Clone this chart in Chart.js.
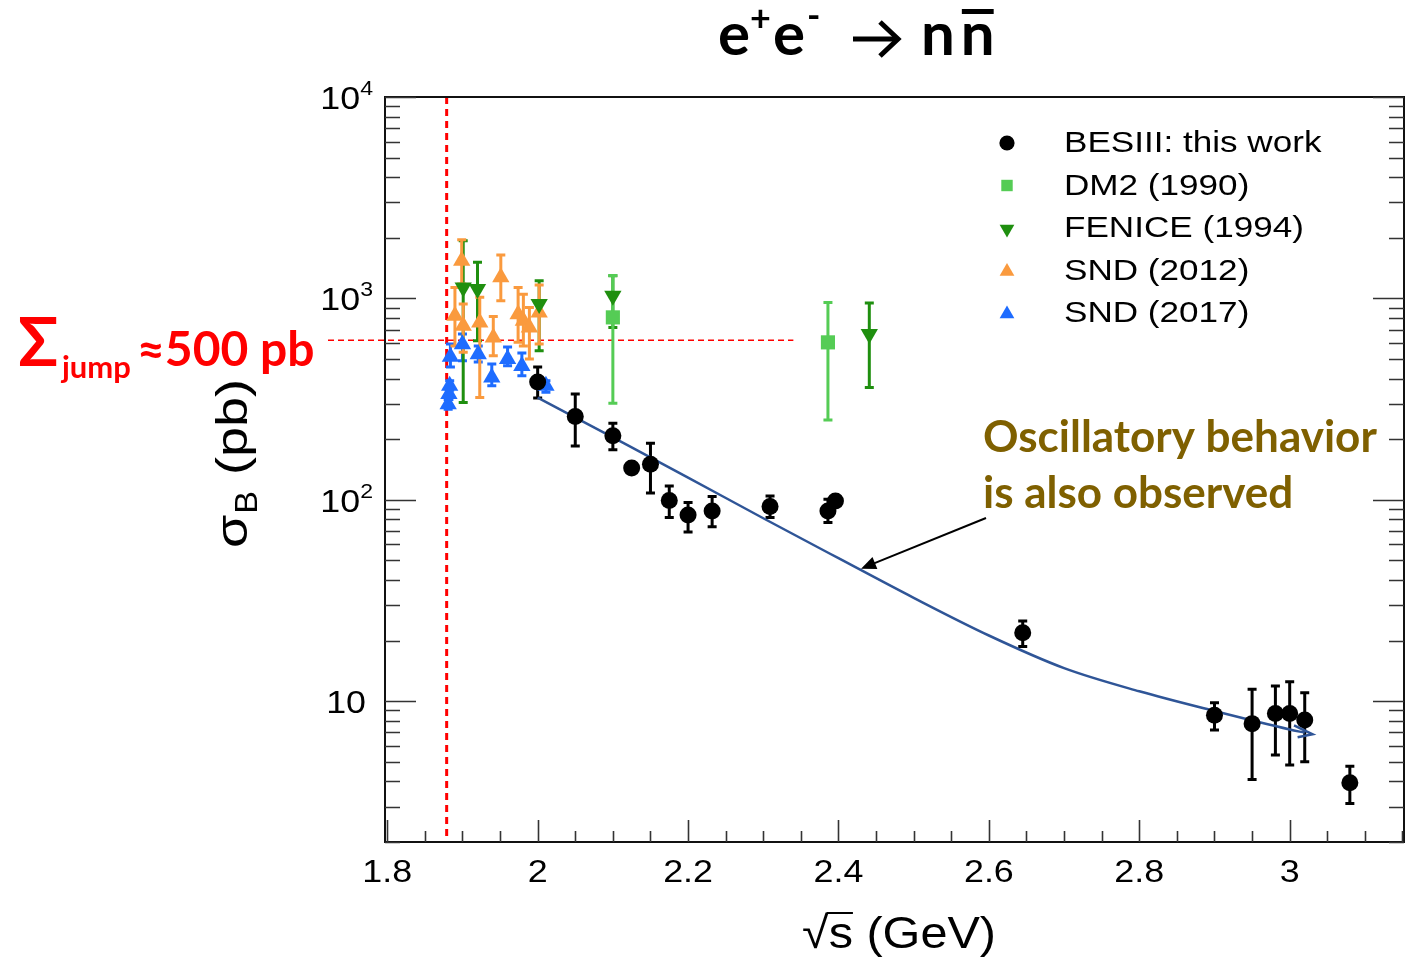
<!DOCTYPE html>
<html>
<head>
<meta charset="utf-8">
<script src="https://cdn.jsdelivr.net/npm/chart.js@4.4.0/dist/chart.umd.min.js"></script>
<style>
html, body { margin: 0; padding: 0; background: #fff; }
</style>
</head>
<body>
<canvas id="c" width="1414" height="962"></canvas>
<script>
// BESIII: this work
const besX  = [2.000, 2.050, 2.100, 2.125, 2.150, 2.175, 2.200, 2.232, 2.309, 2.386, 2.396, 2.645, 2.900, 2.950, 2.981, 3.000, 3.020, 3.080];
const besY  = [385, 259, 208, 144, 150, 99.2, 84.1, 88.1, 92.6, 88.1, 98.7, 21.9, 8.51, 7.74, 8.68, 8.68, 8.07, 3.94];
const besLo = [320, 185, 177, 139, 108, 81.7, 69.3, 73.4, 81.7, 77.1, 95, 18.7, 7.19, 4.09, 5.40, 4.82, 5.01, 3.11];
const besHi = [456, 335, 240, 149, 191, 117, 97, 104, 104.6, 100.7, 102, 25.0, 9.84, 11.46, 11.9, 12.5, 11.03, 4.76];

// DM2 (1990)
const dm2X  = [2.100, 2.386];
const dm2Y  = [805, 605];
const dm2Lo = [302, 249];
const dm2Hi = [1300, 955];

// FENICE (1994)
const fenX  = [1.901, 1.920, 2.002, 2.100, 2.441];
const fenY  = [1134, 1112, 937, 1030, 665];
const fenLo = [304, 616, 549, 718, 361];
const fenHi = [1933, 1510, 1223, 1295, 948];

// SND (2012)
const snd12X  = [1.890, 1.899, 1.901, 1.923, 1.941, 1.951, 1.974, 1.981, 1.989, 2.002];
const snd12Y  = [820, 1538, 731, 760, 640, 1272, 835, 774, 717, 852];
const snd12Lo = [581, 1180, 541, 322, 519, 973, 605, 581, 500, 593];
const snd12Hi = [1134, 1955, 937, 1012, 814, 1641, 1134, 1050, 902, 1164];

// SND (2017)
const snd17X  = [1.881, 1.882, 1.883, 1.884, 1.900, 1.921, 1.939, 1.960, 1.979, 2.011];
const snd17Y  = [298, 335, 368, 513, 592, 528, 405, 500, 462, 368];
const snd17Lo = [282, 315, 350, 456, 490, 483, 368, 463, 413, 342];
const snd17Hi = [315, 355, 390, 593, 665, 581, 472, 573, 535, 390];

// fitted curve
const fitX = [2.00, 2.10, 2.20, 2.30, 2.40, 2.50, 2.60, 2.70, 2.80, 2.90, 3.00, 3.02];
const fitY = [322, 204, 129, 81, 51.3, 32.6, 21.2, 14.6, 11.2, 8.94, 7.24, 6.98];

// axes
const xTickValues = [1.8, 2.0, 2.2, 2.4, 2.6, 2.8, 3.0];
const xTickLabels = ['1.8', '2', '2.2', '2.4', '2.6', '2.8', '3'];
const yTickValues = [10, 100, 1000, 10000];
const yTickExps   = ['', '2', '3', '4'];

const threshold = 1.879;   // 2 m_n
const jumpLevel = 620;     // dashed level in pb

const points = (xs, ys, lo, hi) => xs.map((x, i) => ({ x, y: ys[i], lo: lo[i], hi: hi[i] }));

const font = (size, bold, fam) => `${bold ? 'bold ' : ''}${size}px ${fam || '"Liberation Sans", Arial, sans-serif'}`;
const CAL = 'Lato, "Open Sans", "DejaVu Sans", sans-serif';

function text(ctx, s, x, y, f, color, align, sx) {
    ctx.save();
    ctx.font = f;
    ctx.fillStyle = color;
    ctx.textAlign = align || 'left';
    ctx.textBaseline = 'alphabetic';
    ctx.translate(x, y);
    ctx.scale(sx || 1, 1);
    ctx.fillText(s, 0, 0);
    ctx.restore();
}

function width(ctx, s, f, sx) {
    ctx.save();
    ctx.font = f;
    const w = ctx.measureText(s).width * (sx || 1);
    ctx.restore();
    return w;
}

function marker(ctx, style, x, y, r, color, rot) {
    ctx.save();
    ctx.fillStyle = color;
    ctx.beginPath();
    if (style === 'circle') {
        ctx.arc(x, y, r, 0, Math.PI * 2);
    } else if (style === 'rect') {
        const s = r * Math.SQRT1_2;
        ctx.rect(x - s, y - s, 2 * s, 2 * s);
    } else {
        let a = (rot || 0) * Math.PI / 180;
        ctx.moveTo(x + Math.sin(a) * r, y - Math.cos(a) * r);
        a += 2 * Math.PI / 3;
        ctx.lineTo(x + Math.sin(a) * r, y - Math.cos(a) * r);
        a += 2 * Math.PI / 3;
        ctx.lineTo(x + Math.sin(a) * r, y - Math.cos(a) * r);
        ctx.closePath();
    }
    ctx.fill();
    ctx.restore();
}

const errorBars = {
    id: 'errorBars',
    beforeDatasetsDraw(chart) {
        const { ctx, scales: { x, y } } = chart;
        chart.data.datasets.forEach((ds) => {
            if (!ds.errColor) return;
            ctx.save();
            ctx.strokeStyle = ds.errColor;
            ctx.lineWidth = 3;
            ds.data.forEach((p) => {
                const px = x.getPixelForValue(p.x);
                const y1 = y.getPixelForValue(p.hi);
                const y2 = y.getPixelForValue(p.lo);
                ctx.beginPath();
                ctx.moveTo(px, y1); ctx.lineTo(px, y2);
                ctx.moveTo(px - 4.5, y1); ctx.lineTo(px + 4.5, y1);
                ctx.moveTo(px - 4.5, y2); ctx.lineTo(px + 4.5, y2);
                ctx.stroke();
            });
            ctx.restore();
        });
    }
};

const guides = {
    id: 'guides',
    beforeDatasetsDraw(chart) {
        const { ctx, chartArea: ca, scales: { x, y } } = chart;
        ctx.save();
        ctx.strokeStyle = '#ff0000';
        // threshold line
        ctx.lineWidth = 3;
        ctx.setLineDash([7, 5]);
        const tx = x.getPixelForValue(threshold);
        ctx.beginPath(); ctx.moveTo(tx, ca.top); ctx.lineTo(tx, ca.bottom); ctx.stroke();
        // jump level
        ctx.lineWidth = 1.5;
        ctx.setLineDash([6, 4]);
        const jy = y.getPixelForValue(jumpLevel);
        ctx.beginPath(); ctx.moveTo(328, jy); ctx.lineTo(x.getPixelForValue(2.34), jy); ctx.stroke();
        ctx.restore();
    }
};

const decorations = {
    id: 'decorations',
    afterDraw(chart) {
        const { ctx, chartArea: ca, scales: { x, y } } = chart;

        // fit curve end hook
        const meta = chart.getDatasetMeta(chart.data.datasets.length - 1);
        const pts = meta.data;
        const pA = pts[pts.length - 2], pB = pts[pts.length - 1];
        const ang = Math.atan2(pB.y - pA.y, pB.x - pA.x);
        ctx.save();
        ctx.strokeStyle = '#2f5597';
        ctx.lineWidth = 2.5;
        ctx.translate(pB.x, pB.y);
        ctx.rotate(ang);
        ctx.beginPath();
        ctx.moveTo(-12, -5); ctx.lineTo(8, 0); ctx.lineTo(-6, 6);
        ctx.stroke();
        ctx.restore();

        // frame
        ctx.save();
        ctx.strokeStyle = '#111';
        ctx.lineWidth = 2;
        ctx.strokeRect(ca.left, ca.top, ca.right - ca.left, ca.bottom - ca.top);

        // x ticks
        ctx.lineWidth = 1.6;
        ctx.strokeStyle = '#333';
        ctx.beginPath();
        for (let v = 1.8; v < 3.16; v += 0.05) {
            const px = Math.round(x.getPixelForValue(v)) + 0.5;
            const major = Math.abs(v * 5 - Math.round(v * 5)) < 1e-6;
            ctx.moveTo(px, ca.bottom);
            ctx.lineTo(px, ca.bottom - (major ? 22 : 11));
        }
        // y ticks, left and right
        for (let d = 1; d <= 10000; d *= 10) {
            for (let m = 1; m <= 9; m++) {
                const v = d * m;
                if (v < 2 || v > 10000) continue;
                const py = Math.round(y.getPixelForValue(v)) + 0.5;
                const len = m === 1 ? 31 : 15;
                ctx.moveTo(ca.left, py); ctx.lineTo(ca.left + len, py);
                ctx.moveTo(ca.right, py); ctx.lineTo(ca.right - len, py);
            }
        }
        ctx.stroke();
        ctx.restore();

        // x tick labels
        const tf = font(32);
        xTickValues.forEach((v, i) => {
            text(ctx, xTickLabels[i], x.getPixelForValue(v), 882, tf, '#000', 'center', 1.12);
        });
        // y tick labels
        const sf = font(21);
        yTickValues.forEach((v, i) => {
            const py = y.getPixelForValue(v);
            if (!yTickExps[i]) {
                text(ctx, '10', 366, py + 12, tf, '#000', 'right', 1.12);
            } else {
                const ws = width(ctx, yTickExps[i], sf, 1.1);
                text(ctx, yTickExps[i], 373, py - 2, sf, '#000', 'right', 1.1);
                text(ctx, '10', 373 - ws, py + 12, tf, '#000', 'right', 1.12);
            }
        });

        // x axis title
        const af = font(45);
        const full = width(ctx, '\u221As (GeV)', af, 1.08);
        let ax = 899 - full / 2;
        text(ctx, '\u221A', ax, 948, af, '#000', 'left', 1.08);
        const wr = width(ctx, '\u221A', af, 1.08);
        const wsx = width(ctx, 's', af, 1.08);
        ctx.save();
        ctx.strokeStyle = '#000';
        ctx.lineWidth = 2;
        ctx.beginPath(); ctx.moveTo(ax + wr - 2, 913); ctx.lineTo(ax + wr + wsx, 913); ctx.stroke();
        ctx.restore();
        text(ctx, 's (GeV)', ax + wr, 948, af, '#000', 'left', 1.08);

        // y axis title
        ctx.save();
        ctx.translate(247, 548);
        ctx.rotate(-Math.PI / 2);
        text(ctx, '\u03C3', 0, 0, af, '#000', 'left', 1.2);
        const wsig = width(ctx, '\u03C3', af, 1.2);
        text(ctx, 'B', wsig + 1, 10, font(31), '#000', 'left', 1.1);
        const wb = width(ctx, 'B', font(31), 1.1);
        text(ctx, ' (pb)', wsig + wb + 2, 0, af, '#000', 'left', 1.2);
        ctx.restore();

        // legend
        const legend = [
            ['BESIII: this work', 'circle', '#000', 0, 8],
            ['DM2 (1990)', 'rect', '#55cc55', 0, 9.5],
            ['FENICE (1994)', 'triangle', '#1f8f0f', 180, 10],
            ['SND (2012)', 'triangle', '#fa9a3e', 0, 10],
            ['SND (2017)', 'triangle', '#1e6cff', 0, 10]
        ];
        const lf = font(30);
        legend.forEach((it, i) => {
            const ry = 143 + i * 42.5;
            marker(ctx, it[1], 1007, ry + (it[1] === 'triangle' ? 1 : 0), it[4] * (i === 0 ? 0.95 : 0.85), it[2], it[3]);
            text(ctx, it[0], 1064, ry + 9, lf, '#000', 'left', 1.17);
        });

        // title e+e- -> n nbar
        const bf = font(60, true, CAL);
        const pf = font(36, true, CAL);
        let tx = 718;
        text(ctx, 'e', tx, 55, bf, '#000'); tx += width(ctx, 'e', bf);
        text(ctx, '+', tx, 31, pf, '#000'); tx += width(ctx, '+', pf) + 2;
        text(ctx, 'e', tx, 55, bf, '#000'); tx += width(ctx, 'e', bf) + 2;
        text(ctx, '-', tx, 28, pf, '#000');
        ctx.save();
        ctx.strokeStyle = '#000';
        ctx.lineWidth = 5;
        ctx.beginPath(); ctx.moveTo(853, 39); ctx.lineTo(895, 39); ctx.stroke();
        ctx.lineJoin = 'miter';
        ctx.beginPath(); ctx.moveTo(880, 22); ctx.lineTo(898, 39); ctx.lineTo(880, 56); ctx.stroke();
        ctx.restore();
        const wn = width(ctx, 'n', bf);
        const n2 = 921 + wn + 6;
        text(ctx, 'n', 921, 55, bf, '#000');
        text(ctx, 'n', n2, 55, bf, '#000');
        ctx.save();
        ctx.fillStyle = '#000';
        ctx.fillRect(n2 + 1, 9, wn - 2, 5);
        ctx.restore();

        // sigma jump label
        const red = '#ff0000';
        text(ctx, '\u03A3', 18, 366, font(66, true, CAL), red);
        text(ctx, 'jump', 62, 378, font(31, true, CAL), red);
        text(ctx, '\u2248500 pb', 137, 366, font(48, true, CAL), red);

        // oscillation note
        const of = font(44, true, CAL);
        text(ctx, 'Oscillatory behavior', 983, 452, of, '#7f6000');
        text(ctx, 'is also observed', 983, 508, of, '#7f6000');

        // arrow to curve
        const ax2 = x.getPixelForValue(2.43), ay2 = y.getPixelForValue(45.5);
        const ax1 = 986, ay1 = 518;
        const a = Math.atan2(ay2 - ay1, ax2 - ax1);
        ctx.save();
        ctx.strokeStyle = '#000';
        ctx.fillStyle = '#000';
        ctx.lineWidth = 2;
        ctx.beginPath(); ctx.moveTo(ax1, ay1); ctx.lineTo(ax2 - Math.cos(a) * 10, ay2 - Math.sin(a) * 10); ctx.stroke();
        ctx.translate(ax2, ay2);
        ctx.rotate(a);
        ctx.beginPath(); ctx.moveTo(0, 0); ctx.lineTo(-15, -6.5); ctx.lineTo(-15, 6.5); ctx.closePath(); ctx.fill();
        ctx.restore();
    }
};

new Chart(document.getElementById('c'), {
    type: 'scatter',
    data: {
        datasets: [
            {
                label: 'BESIII: this work',
                data: points(besX, besY, besLo, besHi),
                pointStyle: 'circle',
                pointRadius: 8.5,
                backgroundColor: '#000',
                borderColor: '#000',
                borderWidth: 0,
                errColor: '#000'
            },
            {
                label: 'SND (2017)',
                data: points(snd17X, snd17Y, snd17Lo, snd17Hi),
                pointStyle: 'triangle',
                pointRadius: 10,
                backgroundColor: '#1e6cff',
                borderColor: '#1e6cff',
                borderWidth: 0,
                errColor: '#1e6cff'
            },
            {
                label: 'FENICE (1994)',
                data: points(fenX, fenY, fenLo, fenHi),
                pointStyle: 'triangle',
                rotation: 180,
                pointRadius: 10,
                backgroundColor: '#1f8f0f',
                borderColor: '#1f8f0f',
                borderWidth: 0,
                errColor: '#1f8f0f'
            },
            {
                label: 'DM2 (1990)',
                data: points(dm2X, dm2Y, dm2Lo, dm2Hi),
                pointStyle: 'rect',
                pointRadius: 10,
                backgroundColor: '#55cc55',
                borderColor: '#55cc55',
                borderWidth: 0,
                errColor: '#55cc55'
            },
            {
                label: 'SND (2012)',
                data: points(snd12X, snd12Y, snd12Lo, snd12Hi),
                pointStyle: 'triangle',
                pointRadius: 10,
                backgroundColor: '#fa9a3e',
                borderColor: '#fa9a3e',
                borderWidth: 0,
                errColor: '#fa9a3e'
            },
            {
                label: 'fit',
                type: 'line',
                data: fitX.map((x, i) => ({ x, y: fitY[i] })),
                borderColor: '#2f5597',
                borderWidth: 2.5,
                pointRadius: 0,
                fill: false,
                cubicInterpolationMode: 'monotone'
            }
        ]
    },
    options: {
        responsive: false,
        animation: false,
        devicePixelRatio: 1,
        layout: {
            padding: { left: 385, top: 97, right: 7, bottom: 120 }
        },
        plugins: {
            legend: { display: false },
            tooltip: { enabled: false },
            title: { display: false }
        },
        scales: {
            x: { type: 'linear', min: 1.797, max: 3.152, display: false },
            y: { type: 'logarithmic', min: 2.0, max: 10000, display: false }
        }
    },
    plugins: [guides, errorBars, decorations]
});
</script>
</body>
</html>
